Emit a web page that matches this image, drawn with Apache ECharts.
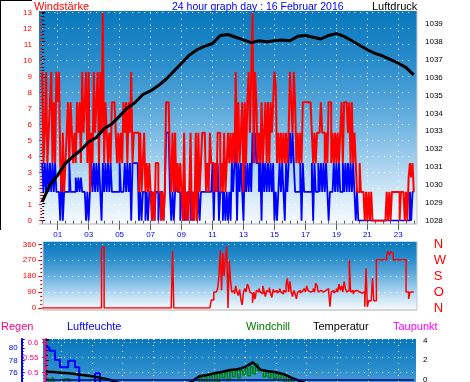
<!DOCTYPE html>
<html><head><meta charset="utf-8">
<script src="https://cdn.jsdelivr.net/npm/echarts@6/dist/echarts.min.js"></script>
<style>html,body{margin:0;padding:0;background:#fff}#c{width:470px;height:382px}</style>
</head><body><div id="c"></div>
<script>
// ---------- data ----------
const hourTicks = [1,3,5,7,9,11,13,15,17,19,21,23];
const hourLabels = ['01','03','05','07','09','11','13','15','17','19','21','23'];
const dirLabels = {0:'N',90:'O',180:'S',270:'W',360:'N'};

// wind gusts (Windstärke), 5-minute samples 00:00..24:00
const gust = [
9.3,3.6,5.5,9.3,3.6,5.5,7.4,9.3,3.6,7.4,3.6,9.3,
7.4,9.3,3.6,1.8,5.5,1.8,3.6,5.5,7.4,3.6,7.4,5.5,
3.6,5.5,3.6,7.4,5.5,7.4,3.6,9.3,5.5,7.4,9.3,3.6,
9.3,1.8,5.5,3.6,9.3,5.5,7.4,9.3,3.6,9.3,5.5,13,
3.6,7.4,5.5,3.6,5.5,3.6,7.4,7.4,7.4,5.5,3.6,5.5,
3.6,5.5,3.6,7.4,5.5,7.4,3.6,7.4,5.5,9.3,3.6,5.5,
5.5,5.5,5.5,1.8,5.5,1.8,3.6,5.5,1.8,3.6,1.8,3.6,
1.8,0,1.8,0,3.6,3.6,1.8,1.8,0,1.8,0,1.8,
7.4,7.4,7.4,3.6,1.8,5.5,1.8,5.5,1.8,3.6,1.8,3.6,
1.8,0,5.5,0,1.8,0,1.8,5.5,0,1.8,0,5.5,
0,5.5,1.8,3.6,5.5,5.5,5.5,1.8,3.6,1.8,5.5,3.6,
3.6,1.8,3.6,1.8,5.5,5.5,1.8,3.6,1.8,5.5,1.8,3.6,
5.5,3.6,5.5,3.6,5.5,3.6,9.3,3.6,7.4,3.6,5.5,7.4,
1.8,7.4,3.6,7.4,9.3,5.5,9.3,13,3.6,9.3,7.4,3.6,
5.5,3.6,7.4,3.6,5.5,7.4,3.6,7.4,3.6,7.4,5.5,7.4,
9.3,8.4,3.6,5.5,3.6,5.5,3.6,5.5,3.6,5.5,3.6,5.5,
9.3,7.4,5.5,9.3,7.4,3.6,5.5,3.6,5.5,3.6,7.4,7.4,
7.4,7.4,7.4,7.4,7.4,5.5,3.6,5.5,3.6,5.5,5.5,5.5,
7.4,5.5,5.5,3.6,5.5,3.6,7.4,7.4,3.6,5.5,3.6,5.5,
3.6,5.5,3.6,5.5,7.4,3.6,7.4,7.4,7.4,5.5,7.4,3.6,
7.4,3.6,5.5,3.6,1.8,1.8,3.6,1.8,1.8,1.8,0,1.8,
0,1.8,0,1.8,0,0,0,0,0,0,0,0,
0,0,0,1.8,0,1.8,0,1.8,1.8,1.8,1.8,1.8,
1.8,0,1.8,1.8,1.8,0,1.8,0,2.7,3.6,2.7,3.6,
1.8];

// mean wind, 5-minute samples
const avgWind = [
3.6,1.8,3.6,1.8,3.6,1.8,3.6,1.8,3.6,1.8,3.6,1.8,
1.8,1.8,0,3.6,0,1.8,1.8,1.8,1.8,3.6,1.8,1.8,
1.8,1.8,2.7,1.8,2.7,1.8,2.7,1.8,1.8,1.8,0,1.8,
0,1.8,3.6,1.8,3.6,1.8,3.6,1.8,3.6,1.8,0,3.6,
1.8,3.6,1.8,3.6,1.8,3.6,1.8,1.8,1.8,1.8,1.8,1.8,
3.6,1.8,1.8,1.8,3.6,1.8,3.6,1.8,3.6,0,3.6,3.6,
3.6,3.6,3.6,0,1.8,0,1.8,1.8,0,1.8,0,1.8,
1.8,0,1.8,0,1.8,1.8,0,1.8,1.8,1.8,0,1.8,
5.5,5.5,5.5,1.8,0,1.8,0,1.8,3.6,1.8,1.8,0,
1.8,1.8,0,1.8,0,1.8,1.8,0,1.8,0,1.8,1.8,
0,1.8,0,1.8,1.8,1.8,1.8,1.8,1.8,1.8,1.8,1.8,
3.6,0,3.6,1.8,3.6,0,1.8,1.8,0,1.8,0,1.8,
0,1.8,0,3.6,1.8,3.6,5.5,0,3.6,1.8,3.6,1.8,
0,3.6,1.8,3.6,1.8,3.6,1.8,5.5,3.6,5.5,3.6,3.6,
1.8,3.6,0,4.5,1.8,3.6,1.8,3.6,1.8,3.6,1.8,3.6,
0,1.8,0,1.8,3.6,1.8,3.6,1.8,0,3.6,1.8,3.6,
5.5,3.6,5.5,3.6,1.8,1.8,1.8,1.8,3.6,0,3.6,1.8,
1.8,1.8,1.8,1.8,1.8,3.6,0,3.6,1.8,1.8,3.6,1.8,
3.6,1.8,3.6,1.8,3.6,1.8,0,1.8,1.8,1.8,3.6,1.8,
3.6,1.8,3.6,1.8,1.8,3.6,1.8,3.6,1.8,3.6,1.8,3.6,
1.8,3.6,1.8,0,1.8,0,0,0,0,0,0,0,
0,0,0,0,0,0,0,0,0,0,0,0,
0,0,0,0,0,0,0,0,0,0,0,0,
0,0,0,0,0,0,0,0,0,1.8,0,1.8,
1.8];

// air pressure (Luftdruck), half-hourly
const pressure = [
1029.05,1030.0,1030.55,1031.2,1031.6,1031.95,1032.4,1032.65,1033.15,1033.4,
1033.85,1034.3,1034.6,1035.05,1035.25,1035.55,1035.9,1036.35,1036.8,1037.25,
1037.55,1037.75,1037.9,1038.35,1038.4,1038.25,1038.1,1037.95,1038.05,1038.0,
1038.05,1038.1,1038.05,1038.3,1038.35,1038.25,1038.15,1038.35,1038.45,1038.3,
1038.05,1037.8,1037.55,1037.35,1037.2,1037.0,1036.8,1036.55,1036.15];

// wind direction (degrees), 5-minute samples
const windDir = [
0,0,0,0,0,0,0,0,0,0,0,0, 0,0,0,0,0,0,0,0,0,0,0,0, 0,0,0,0,0,0,0,0,0,0,0,0,
0,0,0,0,0,0,0,0,0,0,338,347,
0,0,0,0,0,0,0,0,0,0,0,0, 0,0,0,0,0,0,0,0,0,0,0,0, 0,0,0,0,0,0,0,0,0,0,0,0, 0,0,0,0,0,0,0,0,0,0,0,0,
0,0,0,0,0,322,0,0,0,0,0,0,
0,0,0,0,0,0,0,0,0,0,0,0,
0,0,0,0,0,0,0,0,0,0,0,45,
45,90,90,90,110,180,328,100,311,180,290,347,
0,270,150,90,100,80,125,90,70,105,48,17,
90,110,90,135,120,90,80,30,90,50,100,90,
110,90,80,125,95,65,100,90,115,80,60,105,
90,100,85,95,110,90,80,100,90,130,168,90,
150,90,65,100,80,52,90,100,85,95,90,110,
90,125,100,90,80,95,110,90,140,125,90,100,
95,90,80,100,90,110,95,7,90,100,85,95,
110,90,135,100,125,90,150,110,90,100,272,90,
100,80,95,100,90,90,95,85,90,90,7,224,
7,41,41,41,168,41,41,272,272,272,272,272,
272,272,272,300,319,300,319,310,272,272,272,272,
272,272,272,272,272,272,90,90,51,90,90,90,
90];

// temperature, half-hourly
const temperature = [
0.81,0.78,0.7,0.64,0.55,0.45,0.35,0.2,0.05,-0.2,-0.5,-0.8,-1.0,-1.1,-1.2,-1.2,
-1.1,-0.9,-0.6,-0.2,0.35,0.47,0.64,0.8,0.98,1.05,1.3,1.75,1.0,0.85,0.75,0.55,
0.2,-0.1,-0.4,-0.6,-0.8,-1.0,-1.1,-1.2,-1.3,-1.4,-1.5,-1.6,-1.7,-1.8,-1.9,-2.0,-2.0];

// windchill, 10-minute samples
const windchill = [
0.1,-1,0.15,-1,-1,-1,
-1,0.05,0.1,-1,-1,-1,
-2,-2,-2,-2,-2,-2, -2,-2,-2,-2,-2,-2, -2,-2,-2,-2,-2,-2, -2,-2,-2,-2,-2,-2,
-2,-2,-2,-2,-2,-2, -2,-2,-2,-2,-2,-2, -2,-2,-2,-2,-2,-2,
-2,-1.5,-1,-1,-0.8,-0.5,
0.2,-0.5,0.3,-0.4,0.4,-0.3,
0.55,-0.2,0.6,0.2,0.7,-0.1,
0.8,0.3,0.9,0.2,0.95,0.5,
1.1,0.4,1.3,0.6,1.6,0.9,
0.9,0.3,0.8,0.2,0.75,0.1,
0.6,0,0.5,-0.2,0.4,-0.3,
0.1,-0.5,-0.3,-1,-1,-1.5,
-2,-2,-2,-2,-2,-2, -2,-2,-2,-2,-2,-2, -2,-2,-2,-2,-2,-2, -2,-2,-2,-2,-2,-2,
-2,-2,-2,-2,-2,-2, -2,-2,-2,-2,-2,-2, -2,-2,-2,-2,-2,-2,
-2];

// humidity (Luftfeuchte), change times (h) and values (%)
const humTimes = [0,0.22,0.59,0.91,1.45,1.89,2.17,3.2,3.52,8,12,16,20,24];
const humValues = [80.15,79.6,78.07,76.87,77.95,76.87,73,75.9,73,72,68,68,72,73];

// ---------- chart ----------
const G = echarts.graphic;
function grad(stops){return new G.LinearGradient(0,0,0,1,stops.map(s=>({offset:s[0],color:s[1]})));}
const mainGrad = [[0,'#0878bd'],[0.25,'#2b8dcc'],[0.45,'#58a7da'],[0.65,'#92c7ea'],[0.82,'#c8e3f5'],[1,'#f8fbfe']];
const FONT = '"Liberation Sans", Arial, sans-serif';
const dotted = {color:'#ffffff',type:[1,5],width:1};
const intFmt = v => Math.abs(v-Math.round(v))<1e-6 ? String(Math.round(v)) : '';
const evenFmt = v => (Math.abs(v-Math.round(v))<1e-6 && Math.round(v)%2===0) ? String(Math.round(v)) : '';

const chart = echarts.init(document.getElementById('c'),null,{renderer:'canvas'});
const t5 = (a)=>a.map((v,i)=>[i/12,v]);
const gb = {outerBoundsMode:'none',containLabel:false};

const option = {
  animation:false,
  backgroundColor:'#ffffff',
  textStyle:{fontFamily:FONT},
  graphic:[
    {type:'rect',z:-10,shape:{x:39,y:11,width:378,height:213},style:{fill:grad(mainGrad)}},
    {type:'rect',z:-10,shape:{x:43,y:241.7,width:374,height:68.3},style:{fill:grad(mainGrad)}},
    {type:'rect',z:-10,shape:{x:43,y:339,width:373,height:120},style:{fill:grad(mainGrad)}},
    {type:'line',z:-9,shape:{x1:39,y1:224,x2:417,y2:224},style:{stroke:'#c8c8c8',lineWidth:1.5}},
    {type:'line',z:-9,shape:{x1:417,y1:11,x2:417,y2:224},style:{stroke:'#c8c8c8',lineWidth:1}},
    {type:'line',z:-9,shape:{x1:43,y1:310,x2:417,y2:310},style:{stroke:'#c8c8c8',lineWidth:1.5}},
    {type:'line',z:-9,shape:{x1:43,y1:241.7,x2:43,y2:310},style:{stroke:'#c8c8c8',lineWidth:1}},
    {type:'line',z:-9,shape:{x1:417,y1:241.7,x2:417,y2:310},style:{stroke:'#c8c8c8',lineWidth:1}},
    {type:'line',z:-9,shape:{x1:0.5,y1:0,x2:0.5,y2:230},style:{stroke:'#000000',lineWidth:1}},
    {type:'line',z:-9,shape:{x1:0,y1:0.5,x2:32,y2:0.5},style:{stroke:'#000000',lineWidth:1}},
    {type:'text',x:34,y:7,style:{text:'Windstärke',fill:'#ff0000',font:'11px '+FONT,verticalAlign:'middle'}},
    {type:'text',x:172,y:7,style:{text:'24 hour graph day : 16 Februar 2016',fill:'#0000ff',font:'10.5px '+FONT,verticalAlign:'middle'}},
    {type:'text',x:372,y:7,style:{text:'Luftdruck',fill:'#000000',font:'11px '+FONT,verticalAlign:'middle'}},
    {type:'text',x:1,y:326.5,style:{text:'Regen',fill:'#ff0080',font:'11px '+FONT,verticalAlign:'middle'}},
    {type:'text',x:67,y:326.5,style:{text:'Luftfeuchte',fill:'#0000ff',font:'11px '+FONT,verticalAlign:'middle'}},
    {type:'text',x:246,y:326.5,style:{text:'Windchill',fill:'#008000',font:'11px '+FONT,verticalAlign:'middle'}},
    {type:'text',x:313,y:326.5,style:{text:'Temperatur',fill:'#000000',font:'11px '+FONT,verticalAlign:'middle'}},
    {type:'text',x:393,y:326.5,style:{text:'Taupunkt',fill:'#ff00ff',font:'11px '+FONT,verticalAlign:'middle'}}
  ],
  grid:[
    Object.assign({left:42.2,top:12.7,width:371.6,height:208},gb),
    Object.assign({left:42.2,top:244.3,width:371.6,height:63.7},gb),
    Object.assign({left:46,top:339,width:368,height:119},gb),
    Object.assign({left:46,top:339,width:368,height:123.3},gb)
  ],
  xAxis:[
    {gridIndex:0,type:'value',position:'bottom',min:0,max:24,interval:0.5,offset:3.3,axisLine:{show:false},
     axisTick:{length:3,lineStyle:{color:'#606060'}},axisLabel:{show:false},splitLine:{show:false}},
    {gridIndex:0,type:'value',position:'bottom',min:0,max:24,offset:3.3,axisLine:{show:false},
     axisTick:{customValues:hourTicks,length:6,lineStyle:{color:'#606060'}},
     axisLabel:{customValues:hourTicks,color:'#0000ff',fontSize:8,margin:7,
       formatter:v=>hourLabels[hourTicks.indexOf(Math.round(v))]},
     splitLine:{show:true,lineStyle:dotted}},
    {gridIndex:1,type:'value',position:'bottom',min:0,max:24,show:false},
    {gridIndex:2,type:'value',position:'bottom',min:0,max:24,axisLine:{show:false},
     axisTick:{show:false,customValues:hourTicks},axisLabel:{show:false,customValues:hourTicks},
     splitLine:{show:true,lineStyle:dotted}},
    {gridIndex:3,type:'value',position:'bottom',min:0,max:24,show:false}
  ],
  yAxis:[
    {gridIndex:0,type:'value',position:'left',min:0,max:13,interval:1,offset:3.2,
     axisLine:{show:false},axisTick:{length:3,lineStyle:{color:'#ff0000'}},
     minorTick:{show:true,splitNumber:5,length:2,lineStyle:{color:'#ff0000'}},
     axisLabel:{color:'#ff0000',fontSize:8,margin:7,formatter:intFmt},splitLine:{show:true,lineStyle:dotted}},
    {gridIndex:0,type:'value',position:'right',min:1028,max:1039.62,interval:1,offset:3.2,
     axisLine:{show:false},axisTick:{length:3,lineStyle:{color:'#000'}},
     minorTick:{show:true,splitNumber:5,length:2,lineStyle:{color:'#000'}},
     axisLabel:{color:'#000',fontSize:8,margin:8,formatter:intFmt},splitLine:{show:false}},
    {gridIndex:1,type:'value',position:'left',min:0,max:360,interval:90,offset:0,
     axisLine:{show:false},axisTick:{length:4,lineStyle:{color:'#ff0000'}},
     minorTick:{show:true,splitNumber:4,length:2,lineStyle:{color:'#ff0000'}},
     axisLabel:{color:'#ff0000',fontSize:8,margin:6},splitLine:{show:true,lineStyle:dotted}},
    {gridIndex:1,type:'value',position:'right',min:0,max:360,interval:90,
     axisLine:{show:false},axisTick:{show:false},
     axisLabel:{color:'#ff0000',fontSize:13,margin:20,formatter:v=>dirLabels[v]},splitLine:{show:false}},
    {gridIndex:2,type:'value',position:'right',min:-8,max:4.143,interval:2,offset:2,
     axisLine:{show:false},axisTick:{length:3,lineStyle:{color:'#000'}},
     minorTick:{show:true,splitNumber:4,length:2,lineStyle:{color:'#000'}},
     axisLabel:{color:'#000',fontSize:8,margin:7,formatter:intFmt},splitLine:{show:false}},
    {gridIndex:2,type:'value',position:'left',min:62,max:81.51,interval:2,offset:24.3,
     axisLine:{show:true,lineStyle:{color:'#0000ff',width:2}},
     axisTick:{inside:true,length:3,lineStyle:{color:'#0000ff'}},
     minorTick:{show:true,splitNumber:4,length:2,lineStyle:{color:'#0000ff'}},
     axisLabel:{color:'#0000ff',fontSize:8,margin:4,formatter:evenFmt},splitLine:{show:false}},
    {gridIndex:3,type:'value',position:'left',min:0.2,max:0.611,interval:0.05,offset:0.5,
     axisLine:{show:true,lineStyle:{color:'#ff0080',width:2}},
     axisTick:{length:4,lineStyle:{color:'#ff0080'}},
     minorTick:{show:true,splitNumber:5,length:2,lineStyle:{color:'#ff0080'}},
     axisLabel:{color:'#ff0080',fontSize:8,margin:7,
       formatter:v=>{const r=Math.round(v*20)/20;return Math.abs(v-r)<1e-6?String(+r.toFixed(2)):'';}},
     splitLine:{show:true,lineStyle:dotted}}
  ],
  series:[
    {type:'line',name:'Wind',xAxisIndex:0,yAxisIndex:0,step:'end',symbol:'none',z:2,
     lineStyle:{color:'#0000ff',width:1.8},data:t5(avgWind)},
    {type:'line',name:'Böen',xAxisIndex:0,yAxisIndex:0,step:'end',symbol:'none',z:3,
     lineStyle:{color:'#ff0000',width:2},data:t5(gust)},
    {type:'line',name:'Luftdruck',xAxisIndex:0,yAxisIndex:1,symbol:'none',z:4,
     lineStyle:{color:'#000000',width:3},data:pressure.map((v,i)=>[i/2,v])},
    {type:'line',name:'Windrichtung',xAxisIndex:2,yAxisIndex:2,step:'end',symbol:'none',
     lineStyle:{color:'#ff0000',width:1.5},data:t5(windDir)},
    {type:'line',name:'Windchill',xAxisIndex:3,yAxisIndex:4,step:'end',symbol:'none',z:2,
     lineStyle:{color:'#008000',width:1.5},data:windchill.map((v,i)=>[i/6,v])},
    {type:'line',name:'Luftfeuchte',xAxisIndex:3,yAxisIndex:5,step:'end',symbol:'none',z:3,
     lineStyle:{color:'#0000ff',width:2},data:humTimes.map((t,i)=>[t,humValues[i]])},
    {type:'line',name:'Temperatur',xAxisIndex:3,yAxisIndex:4,symbol:'none',z:4,
     lineStyle:{color:'#000000',width:2.5},data:temperature.map((v,i)=>[i/2,v]),
     markLine:{silent:true,symbol:'none',label:{show:false},
       lineStyle:{color:'#000080',width:1.5,type:'solid'},data:[{yAxis:0}]}},
    {type:'line',name:'Regen',xAxisIndex:4,yAxisIndex:6,symbol:'none',
     lineStyle:{color:'#ff0080',width:1},data:[[0,0],[24,0]]}
  ]
};
chart.setOption(option);
</script></body></html>
